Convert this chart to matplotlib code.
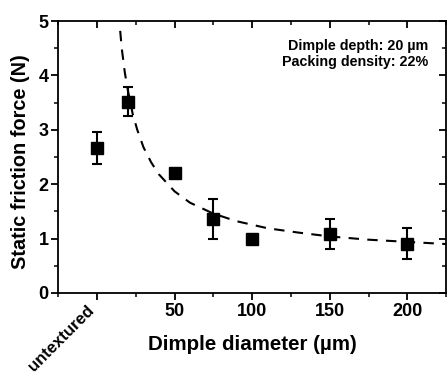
import numpy as np
import matplotlib.pyplot as plt
from matplotlib.ticker import MultipleLocator

plt.rcParams['font.family'] = ['Liberation Sans', 'DejaVu Sans']
plt.rcParams['font.weight'] = 'bold'

# datos medidos (x=0 -> sin textura)
diametro = [0, 20, 50, 75, 100, 150, 200]
fuerza = [2.67, 3.52, 2.20, 1.36, 0.99, 1.08, 0.91]
error = [0.29, 0.27, 0.08, 0.36, 0.06, 0.28, 0.28]

# curva de ajuste
curva_x = [15, 16, 18, 20, 23, 26, 30, 35, 40, 50, 60, 75, 90, 110, 130, 150, 175, 200, 225]
curva_y = [4.82, 4.50, 4.05, 3.72, 3.30, 3.00, 2.68, 2.40, 2.18, 1.87, 1.66, 1.46,
           1.32, 1.19, 1.11, 1.04, 0.98, 0.94, 0.90]

tick_pos = [0, 50, 100, 150, 200]
tick_lab = ['untextured', '50', '100', '150', '200']

fig = plt.figure(figsize=(4.47, 3.83), dpi=100)
ax = fig.add_axes([0.130, 0.235, 0.868, 0.710])

ax.plot(curva_x, curva_y, 'k--', linewidth=1.5, dashes=(5, 4))
ax.errorbar(diametro, fuerza, yerr=error, fmt='s', color='black', markersize=8.5,
            elinewidth=1.5, capsize=3.5, capthick=1.5)

ax.set_xlim(-25, 225)
ax.set_ylim(0, 5)
ax.set_xticks(tick_pos)
ax.set_xticklabels(tick_lab, fontsize=13, fontweight='bold')
ax.xaxis.set_minor_locator(MultipleLocator(25))
ax.yaxis.set_major_locator(MultipleLocator(1))
ax.yaxis.set_minor_locator(MultipleLocator(0.5))
for lab in ax.get_yticklabels():
    lab.set_fontsize(13)
    lab.set_fontweight('bold')

lbl = ax.get_xticklabels()[0]
lbl.set_rotation(45)
lbl.set_ha('right')
lbl.set_va('top')
lbl.set_fontsize(12)

ax.tick_params(which='major', direction='out', length=5, width=1.3, pad=2)
ax.tick_params(which='minor', direction='out', length=3, width=1.1)
ax.tick_params(axis='x', which='both', top=True)
ax.tick_params(axis='y', which='both', right=True)
for t in ax.xaxis.get_major_ticks() + ax.xaxis.get_minor_ticks():
    t.tick2line.set_marker(3)
for t in ax.yaxis.get_major_ticks() + ax.yaxis.get_minor_ticks():
    t.tick2line.set_marker(0)
for s in ax.spines.values():
    s.set_linewidth(1.3)

ax.set_xlabel('Dimple diameter (µm)', fontsize=14.8, fontweight='bold')
ax.xaxis.set_label_coords(0.501, -0.19)
ax.xaxis.label.set_va('center')
ax.set_ylabel('Static friction force (N)', fontsize=14.3, fontweight='bold')
ax.yaxis.set_label_coords(-0.098, 0.482)
ax.yaxis.label.set_va('center')

ax.text(0.955, 0.935, 'Dimple depth: 20 µm\nPacking density: 22%', transform=ax.transAxes,
        ha='right', va='top', fontsize=10.3, fontweight='bold', linespacing=1.25)

fig.savefig('out.png', dpi=100)
